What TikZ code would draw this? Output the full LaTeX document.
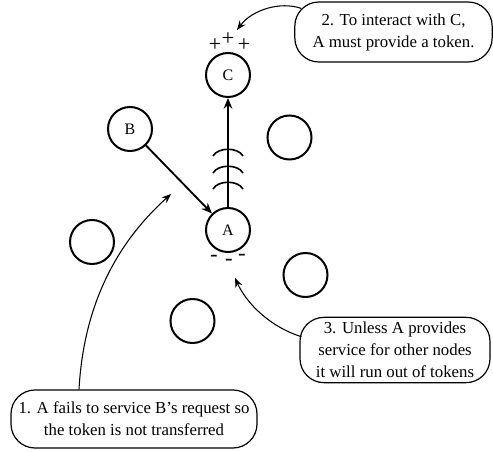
\documentclass[tikz,border=0pt]{standalone}
\usepackage{fontspec}
\setmainfont{Liberation Serif}
\usetikzlibrary{arrows.meta}
\begin{document}
\begin{tikzpicture}[x=0.75pt,y=-0.75pt,
  peer/.style={circle,draw,line width=1.5pt,minimum size=33pt,inner sep=0pt,
    font=\fontsize{12}{14}\selectfont},
  note/.style={draw,line width=0.9pt,rounded corners=18pt,align=center,inner sep=0pt,
    font=\fontsize{12.6}{16.5}\selectfont},
  sign/.style={inner sep=0pt,font=\fontsize{17}{18}\selectfont},
  link/.style={line width=1.4pt,-{Stealth[length=8pt,width=6.5pt]}},
  pointer/.style={line width=0.8pt,-{Stealth[length=7pt,width=5.5pt]}},
  wave/.style={line width=1.2pt},
]
\useasboundingbox (0,0) rectangle (493,452);

% peers
\node[peer] (C) at (228,75) {C};
\node[peer] (A) at (228,230) {A};
\node[peer] (B) at (130,129) {B};
\node[peer] (p1) at (289.5,137.5) {};
\node[peer] (p2) at (92,242) {};
\node[peer] (p3) at (305.5,275) {};
\node[peer] (p4) at (192.5,321) {};

% token balance marks
\node[sign] (plus1) at (215,45) {+};
\node[sign] (plus2) at (228,39) {+};
\node[sign] (plus3) at (244,45) {+};
\node[sign] (minus1) at (214,258) {-};
\node[sign] (minus2) at (229,262) {-};
\node[sign] (minus3) at (242,257) {-};

% requests
\draw[link] (B) -- (A);
\draw[link] (A) -- (C);

% signal waves along the A-C link
\foreach \y in {150,167,183}
  \draw[wave] (213,\y+6) .. controls (218,\y-3) and (238,\y-3) .. (243,\y+6);

% explanatory notes
\node[note,minimum width=148pt,minimum height=45pt] (note2) at (393.5,32)
  {2. To interact with C,\\A must provide a token.};
\node[note,minimum width=142.5pt,minimum height=49pt] (note3) at (395,350)
  {3. Unless A provides\\service for other nodes\\it will run out of tokens};
\node[note,minimum width=184.5pt,minimum height=43.5pt] (note1) at (134,419)
  {1. A fails to service B's request so\\the token is not transferred};

\coordinate (gainC) at (237,30);
\coordinate (lossA) at (235,278);
\coordinate (missB) at (171,194);

\draw[pointer] ([shift={(7,7)}]note2.north west) .. controls (280,1) and (252,10) .. (gainC);
\draw[pointer] ([shift={(2,20)}]note3.north west) .. controls (268,326) and (246,302) .. (lossA);
\draw[pointer] ([shift={(-55,0)}]note1.north) .. controls (84,300) and (120,240) .. (missB);
\end{tikzpicture}
\end{document}
